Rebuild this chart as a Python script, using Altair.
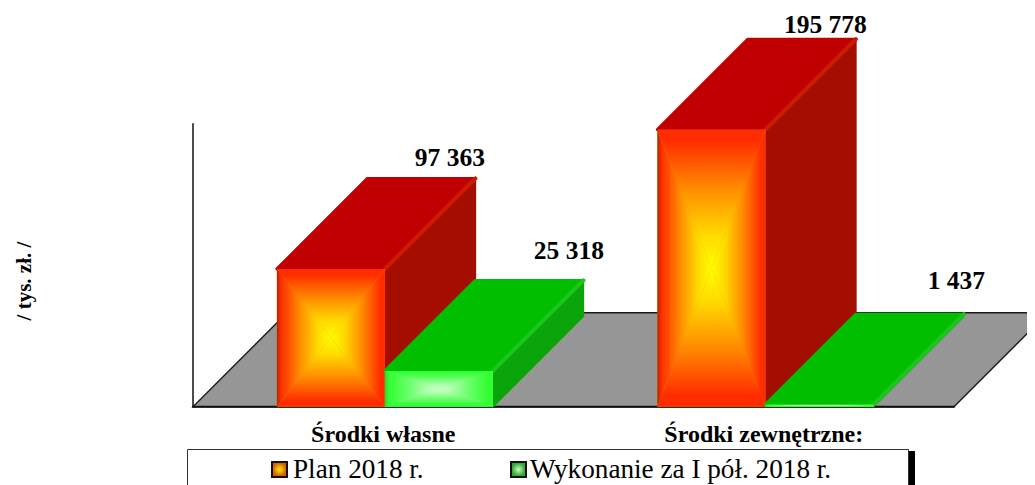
import altair as alt
import pandas as pd

categories = ["Środki własne", "Środki zewnętrzne:"]
plan = [97363, 195778]
wykonanie = [25318, 1437]
series_names = ["Plan 2018 r.", "Wykonanie za I pół. 2018 r."]
axis_title = "/ tys. zł. /"
axis_max = 200000

W, H = 1019, 477
PX_X = 380.5            # pixels per category
PX_Y = 1.415e-3         # pixels per value unit
ORIGIN_X, ORIGIN_Y = 185, 398.7
FLOOR_X = 94 / PX_X
FLOOR_Y = 94 / PX_Y
DEPTH_X = 90.5 / PX_X
DEPTH_Y = 90.5 / PX_Y
BAR_W = 108 / PX_X
GROUP_OFF = 0.2205
FONT = "Liberation Serif"

xs = alt.Scale(domain=[-ORIGIN_X / PX_X, (W - ORIGIN_X) / PX_X], range=[0, W], nice=False, zero=False)
ys = alt.Scale(domain=[-(H - ORIGIN_Y) / PX_Y, ORIGIN_Y / PX_Y], range=[H, 0], nice=False, zero=False)


def grad(stops, horizontal=True, rev=False):
    n = [alt.GradientStop(offset=(1 - o if rev else o), color=c) for o, c in stops]
    if rev:
        n = n[::-1]
    return alt.LinearGradient(gradient="linear", stops=n, x1=0, y1=0, x2=1 if horizontal else 0, y2=0 if horizontal else 1)


def band_v(xv, y1, y2, **mk):
    df = pd.DataFrame({"x": xv, "y": y1, "y2": y2})
    return alt.Chart(df).mark_area(**mk).encode(
        x=alt.X("x:Q", scale=xs, axis=None),
        y=alt.Y("y:Q", scale=ys, axis=None),
        y2="y2:Q",
    )


def band_h(yv, x1, x2, **mk):
    df = pd.DataFrame({"y": yv, "x": x1, "x2": x2})
    return alt.Chart(df).mark_area(orient="horizontal", **mk).encode(
        y=alt.Y("y:Q", scale=ys, axis=None),
        x=alt.X("x:Q", scale=xs, axis=None),
        x2="x2:Q",
    )


def seg(xv, yv, color, width):
    df = pd.DataFrame({"x": xv, "y": yv})
    return alt.Chart(df).mark_line(color=color, strokeWidth=width, strokeCap="round", clip=True).encode(
        x=alt.X("x:Q", scale=xs, axis=None),
        y=alt.Y("y:Q", scale=ys, axis=None),
    )


RED = dict(top="#c00000", side="#a30e00", ridge="#cc1c00",
           edge_dark="#a82a00", rim="#ff2c00", mid="#ff8a00", hi="#ffd800", core="#ffff00")
GRN = dict(top="#00bf00", side="#0aa50a", ridge="#1cc41c",
           edge_dark="#30d030", rim="#30ff30", mid="#66ff66", hi="#a8ffa8", core="#d4ffd4")


def bar(left, value, p):
    R = left + BAR_W
    C = left + BAR_W / 2
    M = value / 2
    dx, dy = DEPTH_X, DEPTH_Y
    sl = [(0, p["edge_dark"]), (0.07, p["rim"]), (0.42, p["mid"]), (0.75, p["hi"]), (1, p["core"])]
    st = [(0, p["rim"]), (0.08, p["rim"]), (0.42, p["mid"]), (0.75, p["hi"]), (1, p["core"])]
    return [
        band_v([R, R + dx], [value, value + dy], [0, dy], color=p["side"], stroke=p["side"], strokeWidth=1.5, strokeJoin="round"),
        band_h([value, value + dy], [left, left + dx], [R, R + dx], color=p["top"], stroke=p["top"], strokeWidth=3, strokeJoin="round"),
        seg([R, R + dx], [value, value + dy], p["ridge"], 4),
        band_v([left, R], [value, value], [0, 0], color=p["mid"]),
        band_v([left, C], [value, M], [0, M], color=grad(sl)),
        band_v([C, R], [M, value], [M, 0], color=grad(st, rev=True)),
        band_h([M, value], [C, left], [C, R], color=grad(st, horizontal=False)),
        band_h([0, M], [left, C], [R, C], color=grad(st, horizontal=False, rev=True)),
    ]


layers = []
# floor and axis
layers.append(band_h([0, FLOOR_Y], [0, FLOOR_X], [2, 2 + FLOOR_X], color="#969696", stroke="#1a1a1a", strokeWidth=1.4, clip=True))
layers.append(seg([0, 0], [0, axis_max], "#111111", 1.5))
layers.append(seg([0, 2], [0, 0], "#111111", 2))

for i in range(2):
    left = i + GROUP_OFF
    layers += bar(left, plan[i], RED)
    layers += bar(left + BAR_W, wykonanie[i], GRN)


def vlabel(x, value, dx, dy):
    df = pd.DataFrame({"x": [x], "y": [value], "t": [f"{value:,}".replace(",", " ")]})
    return alt.Chart(df).mark_text(font=FONT, fontWeight="bold", fontSize=25.5, color="black", dx=dx, dy=dy, align="center", baseline="alphabetic").encode(
        x=alt.X("x:Q", scale=xs, axis=None), y=alt.Y("y:Q", scale=ys, axis=None), text="t:N")


for i, (vals, offs) in enumerate([(plan, [(25, -103), (20, -97)]), (wykonanie, [(36, -112), (43, -116)])]):
    for c in range(2):
        x = c + GROUP_OFF + BAR_W * (i + 0.5) + FLOOR_X
        layers.append(vlabel(x, vals[c], offs[c][0], offs[c][1]))

# category labels
cat_df = pd.DataFrame({"x": [0.5, 1.5], "t": categories})
layers.append(alt.Chart(cat_df).mark_text(font=FONT, fontWeight="bold", fontSize=24, color="black", baseline="alphabetic").encode(
    x=alt.X("x:Q", scale=xs, axis=None), y=alt.value(434), text="t:N"))

# axis title
layers.append(alt.Chart(pd.DataFrame({"t": [axis_title]})).mark_text(font=FONT, fontWeight="bold", fontSize=21, color="black", angle=270, baseline="middle").encode(
    x=alt.value(17), y=alt.value(273), text="t:N"))

# legend box
layers.append(alt.Chart(pd.DataFrame({"a": [0]})).mark_rect(color="black").encode(
    x=alt.value(890), x2=alt.value(907), y=alt.value(443), y2=alt.value(477)))
layers.append(alt.Chart(pd.DataFrame({"a": [0]})).mark_rect(fill="white", stroke="#333333", strokeWidth=1).encode(
    x=alt.value(179.5), x2=alt.value(900.5), y=alt.value(441.5), y2=alt.value(480)))


def swatch(x0, core, rim):
    g = alt.RadialGradient(gradient="radial", stops=[alt.GradientStop(offset=0, color=core), alt.GradientStop(offset=1, color=rim)])
    return [
        alt.Chart(pd.DataFrame({"a": [0]})).mark_rect(color="#111111").encode(
            x=alt.value(x0), x2=alt.value(x0 + 17), y=alt.value(453), y2=alt.value(470)),
        alt.Chart(pd.DataFrame({"a": [0]})).mark_rect(color=g).encode(
            x=alt.value(x0 + 2), x2=alt.value(x0 + 15), y=alt.value(455), y2=alt.value(468)),
    ]


layers += swatch(263, "#ffee00", "#d86000")
layers += swatch(502, "#c8ffc8", "#30a830")
for t, xp in zip(series_names, [285, 522]):
    layers.append(alt.Chart(pd.DataFrame({"t": [t]})).mark_text(font=FONT, fontSize=27.2, color="black", align="left", baseline="alphabetic").encode(
        x=alt.value(xp), y=alt.value(470), text="t:N"))

chart = alt.layer(*layers).properties(width=W, height=H, padding=0, autosize="none", background="white").configure_view(stroke=None)
chart.save("out.html", embed_options={"renderer": "svg", "actions": False})
